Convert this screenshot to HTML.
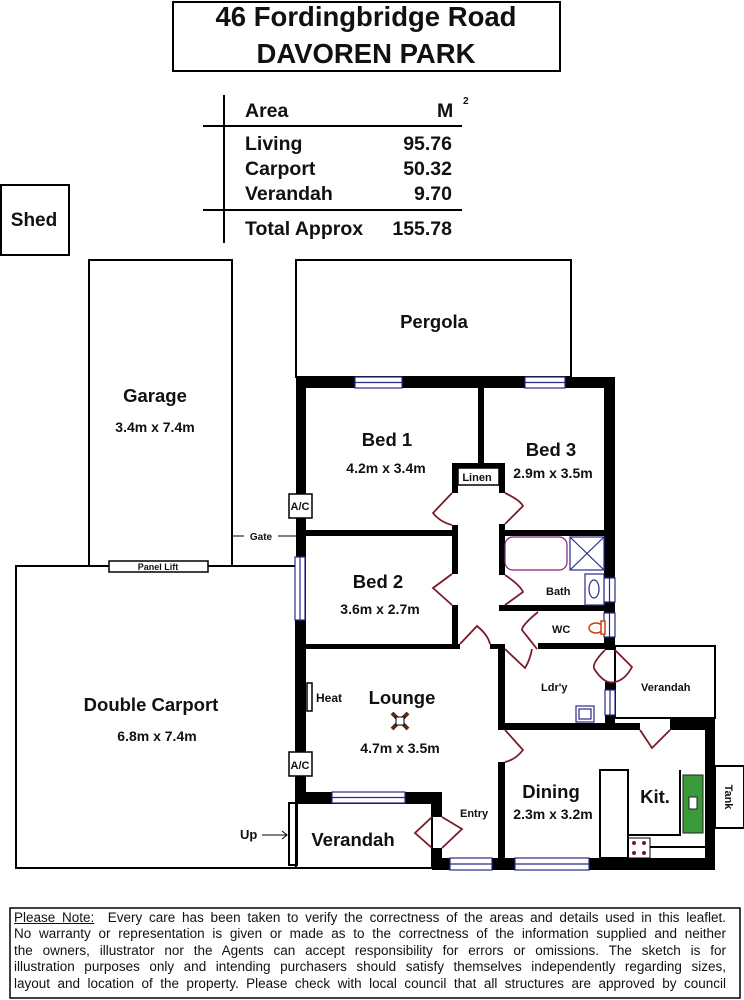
<!DOCTYPE html>
<html><head><meta charset="utf-8"><style>
body{margin:0;background:#fff;width:744px;height:1000px;overflow:hidden}
svg{display:block}
text{font-family:"Liberation Sans",Arial,sans-serif;font-weight:bold;fill:#111}
.note{position:absolute;left:14px;top:910px;width:712px;font:13.5px/16.4px "Liberation Sans",Arial,sans-serif;color:#111}
.note div{text-align:justify;text-align-last:justify;white-space:nowrap;overflow:hidden}
</style></head><body>
<svg width="744" height="1000" viewBox="0 0 744 1000">
<g fill="none" stroke="#000" stroke-width="2">
<rect x="173" y="2" width="387" height="69"/>
<rect x="1" y="185" width="68" height="70"/>
<rect x="89" y="260" width="143" height="306"/>
<rect x="16" y="566" width="280" height="302"/>
<rect x="296" y="260" width="275" height="117"/>
<rect x="615" y="646" width="100" height="72"/>
<rect x="715" y="766" width="29" height="62"/>
<rect x="296" y="803" width="136" height="65"/>
<rect x="289" y="803" width="8" height="62"/>
<rect x="600" y="770" width="28" height="88"/>
<polyline points="628,835 680,835 680,770"/>
<polyline points="650,847 705,847"/>
<rect x="628" y="838" width="22" height="20" stroke-width="1"/>
</g>
<rect x="109" y="561" width="99" height="11" fill="#fff" stroke="#000" stroke-width="1.5"/>
<text x="158" y="570" font-size="9" text-anchor="middle">Panel Lift</text>
<line x1="232" y1="536" x2="244" y2="536" stroke="#000"/><line x1="278" y1="536" x2="296" y2="536" stroke="#000"/>
<text x="261" y="540" font-size="10" text-anchor="middle">Gate</text>
<line x1="224" y1="95" x2="224" y2="243" stroke="#000" stroke-width="2"/>
<line x1="203" y1="126" x2="462" y2="126" stroke="#000" stroke-width="2"/>
<line x1="203" y1="210" x2="462" y2="210" stroke="#000" stroke-width="2"/>
<g font-size="19.5">
<text x="245" y="117">Area</text><text x="437" y="117">M</text><text x="463" y="104" font-size="10">2</text>
<text x="245" y="150">Living</text><text x="452" y="150" text-anchor="end">95.76</text>
<text x="245" y="175">Carport</text><text x="452" y="175" text-anchor="end">50.32</text>
<text x="245" y="200">Verandah</text><text x="452" y="200" text-anchor="end">9.70</text>
<text x="245" y="235">Total Approx</text><text x="452" y="235" text-anchor="end">155.78</text>
</g>
<text x="366" y="26" font-size="27.5" text-anchor="middle">46 Fordingbridge Road</text>
<text x="366" y="63" font-size="27.5" text-anchor="middle">DAVOREN PARK</text>
<text x="34" y="226" font-size="19" text-anchor="middle">Shed</text>
<g fill="#000">
<rect x="296" y="377" width="319" height="11"/>
<rect x="296" y="377" width="10" height="426"/>
<rect x="604" y="377" width="11" height="272"/>
<rect x="478" y="388" width="6" height="76"/>
<rect x="452" y="463" width="52" height="5"/>
<rect x="452" y="463" width="6" height="30"/><rect x="499" y="463" width="6" height="30"/>
<rect x="452" y="525" width="6" height="49"/><rect x="452" y="605" width="6" height="44"/>
<rect x="499" y="524" width="6" height="51"/><rect x="499" y="605" width="6" height="6"/>
<rect x="306" y="530" width="152" height="6"/>
<rect x="499" y="530" width="105" height="6"/>
<rect x="499" y="605" width="105" height="6"/>
<rect x="306" y="644" width="154" height="5"/>
<rect x="490" y="644" width="15" height="5"/>
<rect x="538" y="643" width="77" height="6"/>
<rect x="498" y="644" width="7" height="86"/>
<rect x="498" y="762" width="7" height="98"/>
<rect x="498" y="723" width="142" height="7"/>
<rect x="670" y="718" width="45" height="12"/>
<rect x="605" y="643" width="10" height="7"/><rect x="605" y="682" width="10" height="8"/><rect x="605" y="715" width="10" height="8"/>
<rect x="705" y="718" width="10" height="152"/>
<rect x="432" y="858" width="283" height="12"/>
<rect x="296" y="792" width="146" height="11"/>
<rect x="432" y="792" width="10" height="25"/><rect x="432" y="848" width="10" height="22"/>
</g>
<g fill="#fff" stroke="#2a2a8a" stroke-width="1.2">
<rect x="355" y="377" width="47" height="11"/><line x1="355" y1="382.5" x2="402" y2="382.5"/>
<rect x="525" y="377" width="40" height="11"/><line x1="525" y1="382.5" x2="565" y2="382.5"/>
<rect x="295" y="557" width="10" height="63"/><line x1="300" y1="557" x2="300" y2="620"/>
<rect x="604" y="578" width="11" height="24"/><line x1="609.5" y1="578" x2="609.5" y2="602"/>
<rect x="604" y="613" width="11" height="24"/><line x1="609.5" y1="613" x2="609.5" y2="637"/>
<rect x="605" y="690" width="10" height="25"/><line x1="610" y1="690" x2="610" y2="715"/>
<rect x="332" y="792" width="73" height="11"/><line x1="332" y1="797.5" x2="405" y2="797.5"/>
<rect x="450" y="858" width="42" height="12"/><line x1="450" y1="864" x2="492" y2="864"/>
<rect x="515" y="858" width="74" height="12"/><line x1="515" y1="864" x2="589" y2="864"/>
<rect x="576" y="706" width="18" height="16"/><rect x="579" y="709" width="12" height="10"/>
<rect x="505" y="537" width="62" height="33" rx="8" stroke="#802080"/>
<rect x="570" y="537" width="34" height="33"/><line x1="570" y1="537" x2="604" y2="570"/><line x1="604" y1="537" x2="570" y2="570"/>
<rect x="585" y="574" width="19" height="31"/><ellipse cx="594" cy="589" rx="5" ry="9"/>
</g>
<g fill="#fff" stroke="#d04010" stroke-width="1.5"><ellipse cx="596" cy="628" rx="7" ry="5"/><rect x="601" y="621" width="4" height="13"/></g>
<rect x="683" y="775" width="20" height="58" fill="#3a9a3a" stroke="#222"/>
<rect x="689" y="797" width="8" height="12" fill="#fff" stroke="#222"/>
<g fill="#7a1a1a"><circle cx="634" cy="843" r="2"/><circle cx="644" cy="843" r="2"/><circle cx="634" cy="853" r="2"/><circle cx="644" cy="853" r="2"/></g>
<g fill="none" stroke="#7a1a2a" stroke-width="1.8">
<path d="M452,493 L433,513 Q440,522 452,525"/>
<path d="M505,493 Q520,500 523,506 L505,524"/>
<path d="M452,574 L433,588 L452,605"/>
<path d="M505,575 Q520,585 523,592 L505,605"/>
<path d="M460,644 L477,626 Q488,635 490,644"/>
<path d="M538,612 Q522,625 522,630 Q530,640 537,649"/>
<path d="M505,649 L525,668 Q530,660 532,649"/>
<path d="M605,650 Q590,665 595,670 Q605,685 615,682"/>
<path d="M615,650 L632,667 Q625,680 615,682"/>
<path d="M505,730 L523,750 Q515,760 505,762"/>
<path d="M640,730 L652,748 L670,730"/>
<path d="M432,817 L415,833 L432,848"/>
<path d="M442,817 L462,829 L442,848"/>
</g>
<g stroke="#5a2a1a" stroke-width="4"><line x1="392" y1="713" x2="408" y2="729"/><line x1="408" y1="713" x2="392" y2="729"/></g>
<rect x="396" y="717" width="8" height="8" fill="#fff" stroke="#000"/>
<g fill="#fff" stroke="#000" stroke-width="1.5">
<rect x="289" y="494" width="23" height="24"/><rect x="289" y="752" width="23" height="24"/>
<rect x="307" y="683" width="5" height="28"/>
<rect x="458" y="468" width="41" height="17"/>
</g>
<g font-size="11"><text x="300" y="510" text-anchor="middle">A/C</text><text x="300" y="769" text-anchor="middle">A/C</text>
<text x="477" y="481" text-anchor="middle">Linen</text><text x="546" y="595">Bath</text><text x="552" y="633">WC</text>
<text x="541" y="691">Ldr'y</text><text x="641" y="691">Verandah</text><text x="460" y="817">Entry</text>
<text x="316" y="702" font-size="12">Heat</text>
<text x="725" y="797" transform="rotate(90 725 797)" text-anchor="middle" font-size="11">Tank</text></g>
<text x="240" y="839" font-size="13">Up</text><line x1="262" y1="835" x2="287" y2="835" stroke="#000"/><path d="M282,831 L287,835 L282,839" fill="none" stroke="#000"/>
<g font-size="18.5" text-anchor="middle">
<text x="155" y="402">Garage</text><text x="151" y="711">Double Carport</text><text x="434" y="328">Pergola</text>
<text x="387" y="446">Bed 1</text><text x="551" y="456">Bed 3</text><text x="378" y="588">Bed 2</text>
<text x="402" y="704">Lounge</text><text x="551" y="798">Dining</text><text x="655" y="803">Kit.</text>
<text x="353" y="846">Verandah</text></g>
<g font-size="14" text-anchor="middle">
<text x="155" y="432">3.4m x 7.4m</text><text x="157" y="741">6.8m x 7.4m</text>
<text x="386" y="473">4.2m x 3.4m</text><text x="553" y="478">2.9m x 3.5m</text><text x="380" y="614">3.6m x 2.7m</text>
<text x="400" y="753">4.7m x 3.5m</text><text x="553" y="819">2.3m x 3.2m</text></g>
<rect x="10" y="908" width="730" height="90" fill="none" stroke="#000" stroke-width="1.5"/>
</svg>
<div class="note">
<div><u>Please Note:</u>&nbsp; Every care has been taken to verify the correctness of the areas and details used in this leaflet.</div>
<div>No warranty or representation is given or made as to the correctness of the information supplied and neither</div>
<div>the owners, illustrator nor the Agents can accept responsibility for errors or omissions. The sketch is for</div>
<div>illustration purposes only and intending purchasers should satisfy themselves independently regarding sizes,</div>
<div>layout and location of the property. Please check with local council that all structures are approved by council</div>
</div>
</body></html>
